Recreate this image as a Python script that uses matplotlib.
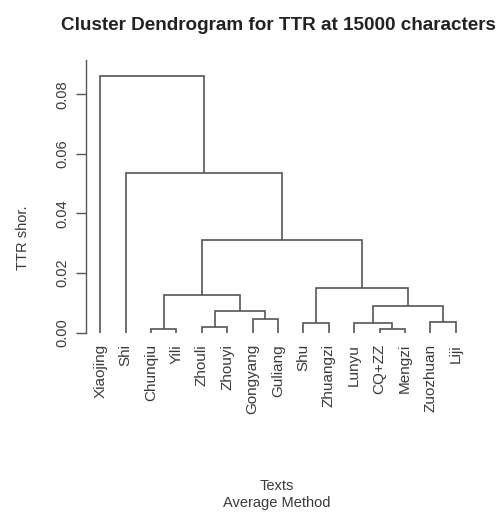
import matplotlib
matplotlib.use("Agg")
import matplotlib.pyplot as plt

# Leaves in the order they are drawn
leaves = ["Xiaojing", "Shi", "Chunqiu", "Yili", "Zhouli", "Zhouyi", "Gongyang",
          "Guliang", "Shu", "Zhuangzi", "Lunyu", "CQ+ZZ", "Mengzi", "Zuozhuan", "Liji"]

# Merge steps (hclust style): a string is a leaf, an int is an earlier merge
merge_left = ["Chunqiu", "CQ+ZZ", "Zhouli", "Shu", "Lunyu", "Zuozhuan", "Gongyang",
              3, 5, 1, 4, 10, "Shi", "Xiaojing"]
merge_right = ["Yili", "Mengzi", "Zhouyi", "Zhuangzi", 2, "Liji", "Guliang",
               7, 6, 8, 9, 11, 12, 13]
merge_height = [0.0011, 0.0011, 0.0018, 0.0032, 0.0034, 0.0037, 0.0045,
                0.0074, 0.0091, 0.0126, 0.0151, 0.0311, 0.0537, 0.0860]

yticks = [0.00, 0.02, 0.04, 0.06, 0.08]

LINE = "#555555"
TEXT = "#3a3a3a"
plt.rcParams["font.family"] = ["Liberation Sans", "DejaVu Sans"]

fig = plt.figure(figsize=(5.02, 5.12), dpi=100)
ax = fig.add_axes([0.1713, 0.3299, 0.765, 0.5529])

xpos = {name: i + 1 for i, name in enumerate(leaves)}


def node_xy(node, centers):
    # position of a leaf (at height 0) or of an earlier merge
    if isinstance(node, str):
        return xpos[node], 0.0
    return centers[node - 1]


centers = []
for left, right, h in zip(merge_left, merge_right, merge_height):
    xl, yl = node_xy(left, centers)
    xr, yr = node_xy(right, centers)
    ax.plot([xl, xl, xr, xr], [yl, h, h, yr], color=LINE, lw=1.2,
            solid_joinstyle="miter", solid_capstyle="butt")
    centers.append(((xl + xr) / 2, h))

for name in leaves:
    ax.text(xpos[name], -0.0038, name, rotation=90, ha="center", va="top",
            fontsize=11, color=TEXT)

ax.set_xlim(0.44, 15.56)
ax.set_ylim(-0.0035, 0.0915)
ax.set_xticks([])
ax.set_yticks(yticks)
ax.set_yticklabels([f"{t:.2f}" for t in yticks], rotation=90, va="center",
                   fontsize=10.5, color=TEXT)
ax.tick_params(axis="y", length=7, width=1.0, color=LINE, pad=5)
for s in ["top", "right", "bottom"]:
    ax.spines[s].set_visible(False)
ax.spines["left"].set_bounds(0, 0.0915)
ax.spines["left"].set_color(LINE)
ax.spines["left"].set_linewidth(1.0)

fig.text(278.5 / 502, 1 - 25 / 512, "Cluster Dendrogram for TTR at 15000 characters",
         ha="center", va="center", fontsize=13.6, fontweight="bold", color="#222222")
fig.text(23 / 502, 1 - 238 / 512, "TTR shor.", rotation=90, ha="center",
         va="center", fontsize=10.5, color=TEXT)
fig.text(277 / 502, 1 - 486.5 / 512, "Texts", ha="center", va="center",
         fontsize=10.5, color=TEXT)
fig.text(277 / 502, 1 - 503 / 512, "Average Method", ha="center", va="center",
         fontsize=10.5, color=TEXT)

fig.savefig("out.png", dpi=100)
